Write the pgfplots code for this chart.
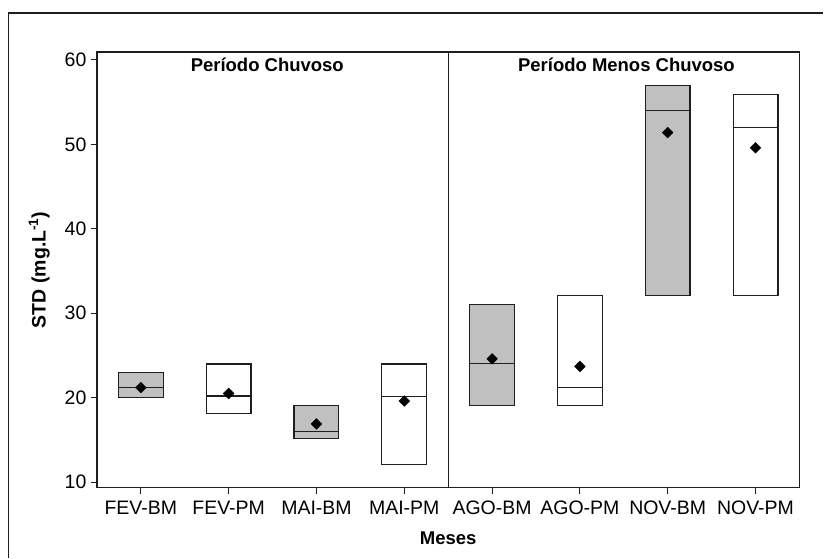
\documentclass[border=0pt]{standalone}
\usepackage{fontspec}
\setmainfont{Liberation Sans}
\usepackage{pgfplots}
\pgfplotsset{compat=1.18}
\usepgfplotslibrary{statistics}
\definecolor{boxgray}{RGB}{192,192,192}
\definecolor{ink}{RGB}{30,30,30}

\begin{document}
\begin{tikzpicture}
  % page area and the partial outer frame
  \path[fill=white] (0pt,0pt) rectangle (824pt,558pt);
  \draw[ink, line width=1.2pt] (8.5pt,0pt) -- (8.5pt,545pt) -- (824pt,545pt);

  \begin{axis}[
    at={(97pt,70pt)}, anchor=south west,
    scale only axis, width=703pt, height=436pt,
    xmin=-0.5, xmax=7.5, ymin=9.35, ymax=60.95,
    xtick={0,1,2,3,4,5,6,7},
    xticklabels={FEV-BM,FEV-PM,MAI-BM,MAI-PM,AGO-BM,AGO-PM,NOV-BM,NOV-PM},
    ytick={10,20,30,40,50,60},
    xtick pos=bottom, ytick pos=left,
    tick align=outside, major tick length=6pt,
    axis line style={ink, line width=1.2pt},
    every tick/.style={ink, line width=1pt},
    /pgf/number format/assume math mode=true,
    tick label style={font=\fontsize{19.5}{22}\selectfont},
    xticklabel style={yshift=-4pt},
    yticklabel style={xshift=-1pt},
    xlabel={\bfseries Meses},
    ylabel={\bfseries STD (mg.L\textsuperscript{-1})},
    label style={font=\fontsize{18.5}{21}\selectfont},
    xlabel style={yshift=-10pt},
    ylabel style={yshift=8pt, font=\fontsize{19.5}{22}\selectfont},
    boxplot/draw direction=y,
    boxplot/box extend=0.51,
    boxplot/every whisker/.style={draw=none},
    clip=false,
  ]
    % wet season: Feb and May
    \addplot[draw=ink, line width=1.2pt, fill=boxgray, boxplot prepared={draw position=0,
      lower whisker=20, lower quartile=20, median=21.2, upper quartile=23, upper whisker=23}] coordinates {};
    \addplot[draw=ink, line width=1.2pt, fill=white, boxplot prepared={draw position=1,
      lower whisker=18.1, lower quartile=18.1, median=20.2, upper quartile=24, upper whisker=24}] coordinates {};
    \addplot[draw=ink, line width=1.2pt, fill=boxgray, boxplot prepared={draw position=2,
      lower whisker=15.2, lower quartile=15.2, median=16, upper quartile=19.1, upper whisker=19.1}] coordinates {};
    \addplot[draw=ink, line width=1.2pt, fill=white, boxplot prepared={draw position=3,
      lower whisker=12.1, lower quartile=12.1, median=20.1, upper quartile=24, upper whisker=24}] coordinates {};
    % less rainy season: Aug and Nov
    \addplot[draw=ink, line width=1.2pt, fill=boxgray, boxplot prepared={draw position=4,
      lower whisker=19.1, lower quartile=19.1, median=24.1, upper quartile=31, upper whisker=31}] coordinates {};
    \addplot[draw=ink, line width=1.2pt, fill=white, boxplot prepared={draw position=5,
      lower whisker=19.1, lower quartile=19.1, median=21.2, upper quartile=32.1, upper whisker=32.1}] coordinates {};
    \addplot[draw=ink, line width=1.2pt, fill=boxgray, boxplot prepared={draw position=6,
      lower whisker=32.1, lower quartile=32.1, median=54, upper quartile=57, upper whisker=57}] coordinates {};
    \addplot[draw=ink, line width=1.2pt, fill=white, boxplot prepared={draw position=7,
      lower whisker=32.1, lower quartile=32.1, median=52, upper quartile=55.9, upper whisker=55.9}] coordinates {};

    % means
    \addplot[only marks, mark=square*, mark size=3.8pt, mark options={rotate=45}, black] coordinates {
      (0,21.2) (1,20.5) (2,16.9) (3,19.6) (4,24.6) (5,23.7) (6,51.4) (7,49.6)};

    % season divider
    \draw[ink, line width=1pt] (axis cs:3.5,9.35) -- (axis cs:3.5,60.95);

    \node[anchor=base, font=\fontsize{18.5}{21}\selectfont\bfseries] at (axis cs:1.44,58.6) {Período Chuvoso};
    \node[anchor=base, font=\fontsize{18.5}{21}\selectfont\bfseries] at (axis cs:5.53,58.6) {Período Menos Chuvoso};
  \end{axis}
\end{tikzpicture}
\end{document}
